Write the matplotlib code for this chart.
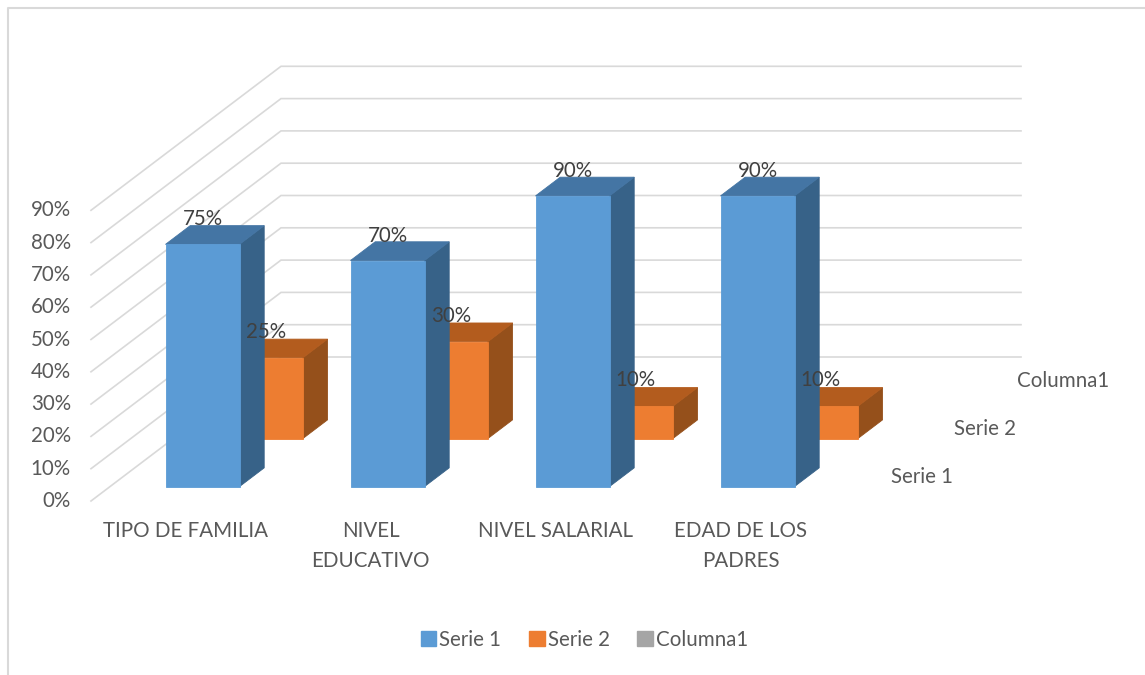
import matplotlib
matplotlib.use("Agg")
import matplotlib.pyplot as plt
from matplotlib.patches import Patch, Polygon

categories = ["TIPO DE FAMILIA", "NIVEL\nEDUCATIVO", "NIVEL SALARIAL", "EDAD DE LOS\nPADRES"]
serie1 = [75, 70, 90, 90]
serie2 = [25, 30, 10, 10]
series_names = ["Serie 1", "Serie 2", "Columna1"]
ticks = [0, 10, 20, 30, 40, 50, 60, 70, 80, 90]

TEXT = "#595959"
GRID = "#D9D9D9"
FS = 14.8
plt.rcParams["font.family"] = ["Lato", "DejaVu Sans"]


def project(c, d, v):
    # c = category position, d = depth 0..1, v = percent; gives pixel coordinates
    return 91 + 185 * c + 190 * d, 501 - 3.23 * v - 144 * d


def draw_bar(ax, i, row, value, front, top, side):
    c0, c1 = i + 0.3, i + 0.7
    d0, d1 = (row + 0.3) / 3, (row + 0.69) / 3
    faces = [
        ([(c1, d0, 0), (c1, d1, 0), (c1, d1, value), (c1, d0, value)], side),
        ([(c0, d0, value), (c1, d0, value), (c1, d1, value), (c0, d1, value)], top),
        ([(c0, d0, 0), (c1, d0, 0), (c1, d0, value), (c0, d0, value)], front),
    ]
    for pts, color in faces:
        ax.add_patch(Polygon([project(*p) for p in pts], closed=True, facecolor=color,
                             edgecolor=color, linewidth=0.6, zorder=3))
    return project(i + 0.5, d0, value)


fig = plt.figure(figsize=(11.45, 6.75), dpi=100)
ax = fig.add_axes([0, 0, 1, 1])
ax.set_xlim(0, 1145)
ax.set_ylim(675, 0)
ax.axis("off")

# chart frame, only top and left are visible in the crop
ax.plot([8, 8, 1145], [675, 8, 8], color=GRID, lw=1.5, zorder=1)

# walls
for t in ticks:
    pts = [project(0, 0, t), project(0, 1, t), project(4, 1, t)]
    ax.plot([p[0] for p in pts], [p[1] for p in pts], color=GRID, lw=1.2, solid_joinstyle="miter", zorder=1)
    x, y = project(0, 0, t)
    ax.text(71, y, "%d%%" % t, color=TEXT, fontsize=FS, ha="right", va="center")

# back row first so the front row covers it
labels = []
for i, v in enumerate(serie2):
    x, y = draw_bar(ax, i, 1, v, "#ED7D31", "#B35C1E", "#95501B")
    labels.append((x, y - 26, v))
for i, v in enumerate(serie1):
    x, y = draw_bar(ax, i, 0, v, "#5B9BD5", "#4475A4", "#376288")
    labels.append((x, y - 25, v))
for x, y, v in labels:
    ax.text(x, y, "%d%%" % v, color="#404040", fontsize=FS, ha="center", va="center", zorder=5)

for i, name in enumerate(categories):
    x, y = project(i + 0.5, 0, 0)
    ax.text(x + 2, 521, name, color=TEXT, fontsize=FS, ha="center", va="top", linespacing=1.62)

for r, name in enumerate(series_names):
    x, y = project(4, (r + 0.5) / 3, 0)
    ax.text(x + 28, y, name, color=TEXT, fontsize=FS, ha="left", va="center")

handles = [Patch(color=c, label=n) for c, n in zip(["#5B9BD5", "#ED7D31", "#A5A5A5"], series_names)]
leg = ax.legend(handles=handles, ncol=3, loc="center", bbox_to_anchor=(584.5 / 1145, 1 - 640 / 675),
                frameon=False, fontsize=FS, handlelength=0.75, handleheight=0.75,
                handletextpad=0.15, columnspacing=1.35, labelcolor=TEXT)

fig.savefig("out.png", dpi=100)
